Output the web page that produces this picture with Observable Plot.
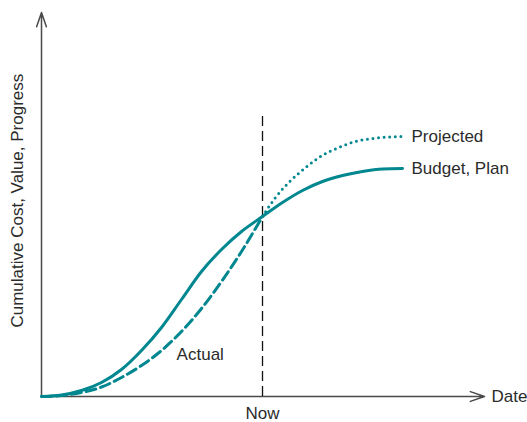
<!DOCTYPE html>
<html>
<head>
<meta charset="utf-8">
<script src="https://cdn.jsdelivr.net/npm/d3@7"></script>
<script src="https://cdn.jsdelivr.net/npm/@observablehq/plot@0.6"></script>
<style>
  html, body { margin: 0; padding: 0; background: #fff; }
  #chart svg { display: block; overflow: visible; }
</style>
</head>
<body>
<div id="chart"></div>
<script>
// Planned (budget) cumulative curve
const budgetX = [0, 4.51, 9.03, 13.54, 18.06, 22.57, 27.09, 31.6, 36.12, 40.63, 45.15, 49.89, 54.4, 58.92, 63.43, 67.95, 72.46, 76.98, 81.49];
const budgetY = [0, 0.39, 1.56, 3.65, 7.03, 11.98, 17.97, 25.26, 32.55, 38.28, 42.97, 46.88, 50.52, 53.65, 55.99, 57.55, 58.59, 59.24, 59.38];
// Actual cumulative curve up to "Now"
const actualX = [0, 4.51, 9.03, 13.54, 18.06, 22.57, 27.09, 31.6, 36.12, 40.63, 45.15, 49.89];
const actualY = [0, 0.26, 1.04, 2.47, 4.95, 8.07, 11.98, 16.93, 22.92, 29.95, 37.76, 46.88];
// Projected curve after "Now"
const projectedX = [49.89, 52.8, 55.8, 59.6, 63.4, 67.0, 70.9, 74.7, 81.49];
const projectedY = [46.88, 51.8, 55.7, 59.6, 62.8, 64.8, 66.4, 67.2, 67.7];
// "Now" marker
const nowX = 49.89;
const nowTop = 73.7;
// Labels
const seriesLabels = ["Projected", "Budget, Plan", "Actual"];
const xAxisLabel = "Date";
const yAxisLabel = "Cumulative Cost, Value, Progress";
const nowLabel = "Now";

const toPts = (xs, ys) => xs.map((x, i) => ({x, y: ys[i]}));
const budget = toPts(budgetX, budgetY);
const actual = toPts(actualX, actualY);
const projected = toPts(projectedX, projectedY);

const teal = "#00878f";
const ink = "#2b2b2b";
const font = "Liberation Sans, Arial, sans-serif";
const fs = 17;

const labelRows = [
  {x: projectedX[projectedX.length - 1], y: projectedY[projectedY.length - 1], text: seriesLabels[0]},
  {x: budgetX[budgetX.length - 1], y: budgetY[budgetY.length - 1], text: seriesLabels[1]}
];

const chart = Plot.plot({
  width: 527,
  height: 422,
  marginLeft: 41,
  marginRight: 43,
  marginTop: 12,
  marginBottom: 26,
  x: {domain: [0, 100], axis: null},
  y: {domain: [0, 100], axis: null},
  style: {fontFamily: font, background: "#fff"},
  marks: [
    // axes with open arrowheads
    Plot.arrow([{x1: 0, y1: 0, x2: 0, y2: 100}], {x1: "x1", y1: "y1", x2: "x2", y2: "y2", stroke: "#4a4a4a", strokeWidth: 1.5, headLength: 15, headAngle: 38}),
    Plot.arrow([{x1: 0, y1: 0, x2: 100, y2: 0}], {x1: "x1", y1: "y1", x2: "x2", y2: "y2", stroke: "#4a4a4a", strokeWidth: 1.5, headLength: 15, headAngle: 38}),
    // Now rule
    Plot.ruleX([nowX], {y1: 0, y2: nowTop, stroke: "#111", strokeWidth: 1.3, strokeDasharray: "10,5"}),
    // curves
    Plot.line(budget, {x: "x", y: "y", stroke: teal, strokeWidth: 3, curve: "monotone-x"}),
    Plot.line(actual, {x: "x", y: "y", stroke: teal, strokeWidth: 3, strokeDasharray: "10,5", curve: "monotone-x"}),
    Plot.line(projected, {x: "x", y: "y", stroke: teal, strokeWidth: 3, strokeDasharray: "0,5.6", strokeLinecap: "round", curve: "monotone-x"}),
    // series labels
    Plot.text(labelRows, {x: "x", y: "y", text: "text", textAnchor: "start", dx: 9, fill: ink, fontSize: fs}),
    Plot.text([seriesLabels[2]], {x: 30.5, y: 11, text: d => d, textAnchor: "start", fill: ink, fontSize: fs}),
    // axis labels
    Plot.text([nowLabel], {x: nowX, y: 0, text: d => d, dy: 17, fill: ink, fontSize: fs}),
    Plot.text([xAxisLabel], {x: 100, y: 0, text: d => d, textAnchor: "start", dx: 7, fill: ink, fontSize: fs}),
    Plot.text([yAxisLabel], {x: 0, y: 51, text: d => d, rotate: -90, dx: -24, fill: ink, fontSize: fs})
  ]
});

document.getElementById("chart").appendChild(chart);
</script>
</body>
</html>
